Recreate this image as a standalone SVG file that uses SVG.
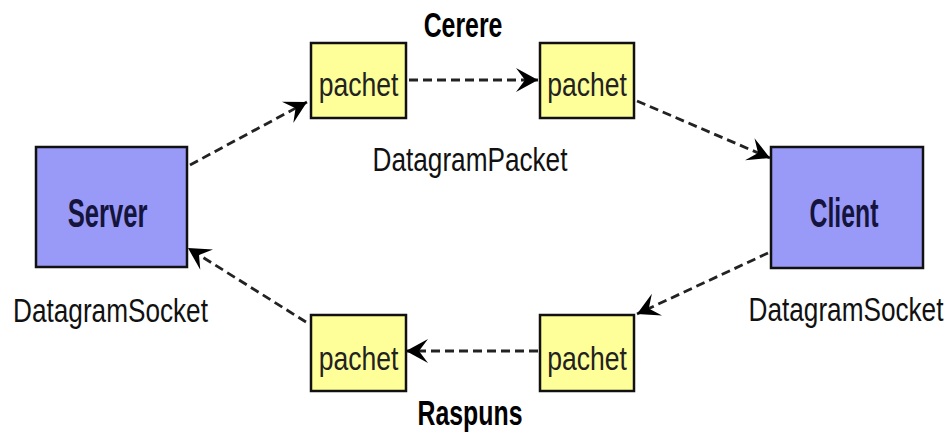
<svg xmlns="http://www.w3.org/2000/svg" width="950" height="433" viewBox="0 0 950 433">
  <defs>
    <marker id="barb" viewBox="-24 -13 26 26" markerWidth="26" markerHeight="26" refX="0" refY="0" orient="auto" markerUnits="userSpaceOnUse">
      <path d="M0,0 L-22,-12 L-13,0 L-22,12 Z" fill="#000"/>
    </marker>
  </defs>
  <style>
    .socket { fill: #9999f8; stroke: #111; stroke-width: 2.5; }
    .packet { fill: #ffff99; stroke: #111; stroke-width: 2.5; }
    .name { font-family: "Liberation Sans", Arial, sans-serif; font-weight: bold; fill: #14143c; text-anchor: middle; }
    .label { font-family: "Liberation Sans", Arial, sans-serif; font-weight: bold; fill: #000; text-anchor: middle; }
    .ptext { font-family: "Liberation Sans", Arial, sans-serif; fill: #222; text-anchor: middle; }
    .cls { font-family: "Liberation Sans", Arial, sans-serif; fill: #111; text-anchor: middle; }
    .flow { fill: none; stroke: #222; stroke-width: 2.8; stroke-dasharray: 9 5; marker-end: url(#barb); }
  </style>
  <rect width="950" height="433" fill="#fff"/>

  <g id="connectors">
    <line class="flow" x1="190" y1="165" x2="307" y2="102"/>
    <line class="flow" x1="409" y1="80" x2="538" y2="80"/>
    <line class="flow" x1="637" y1="101" x2="770" y2="158"/>
    <line class="flow" x1="768" y1="253" x2="637" y2="314"/>
    <line class="flow" x1="538" y1="351" x2="406" y2="351"/>
    <line class="flow" x1="306" y1="322" x2="188" y2="248"/>
  </g>

  <g id="server">
    <rect class="socket" x="36" y="147" width="151" height="120"/>
    <text class="name" font-size="40" transform="translate(107.5,227) scale(0.64,1)">Server</text>
    <text class="cls" font-size="34" transform="translate(110.5,322) scale(0.77,1)">DatagramSocket</text>
  </g>

  <g id="client">
    <rect class="socket" x="771" y="147" width="152" height="121"/>
    <text class="name" font-size="40" transform="translate(844,227) scale(0.62,1)">Client</text>
    <text class="cls" font-size="34" transform="translate(846,321) scale(0.77,1)">DatagramSocket</text>
  </g>

  <g id="packet-request-out">
    <rect class="packet" x="311" y="43" width="95" height="75"/>
    <text class="ptext" font-size="34" transform="translate(358.5,96) scale(0.78,1)">pachet</text>
  </g>

  <g id="packet-request-in">
    <rect class="packet" x="540" y="43" width="94" height="75"/>
    <text class="ptext" font-size="34" transform="translate(587,96) scale(0.78,1)">pachet</text>
  </g>

  <g id="packet-reply-in">
    <rect class="packet" x="311" y="315" width="95" height="76"/>
    <text class="ptext" font-size="34" transform="translate(358.5,370) scale(0.78,1)">pachet</text>
  </g>

  <g id="packet-reply-out">
    <rect class="packet" x="540" y="315" width="94" height="76"/>
    <text class="ptext" font-size="34" transform="translate(587,370) scale(0.78,1)">pachet</text>
  </g>

  <g id="labels">
    <text class="label" font-size="35" transform="translate(463,37) scale(0.71,1)">Cerere</text>
    <text class="cls" font-size="34" transform="translate(470,171) scale(0.77,1)">DatagramPacket</text>
    <text class="label" font-size="35" transform="translate(470,425) scale(0.71,1)">Raspuns</text>
  </g>
</svg>
